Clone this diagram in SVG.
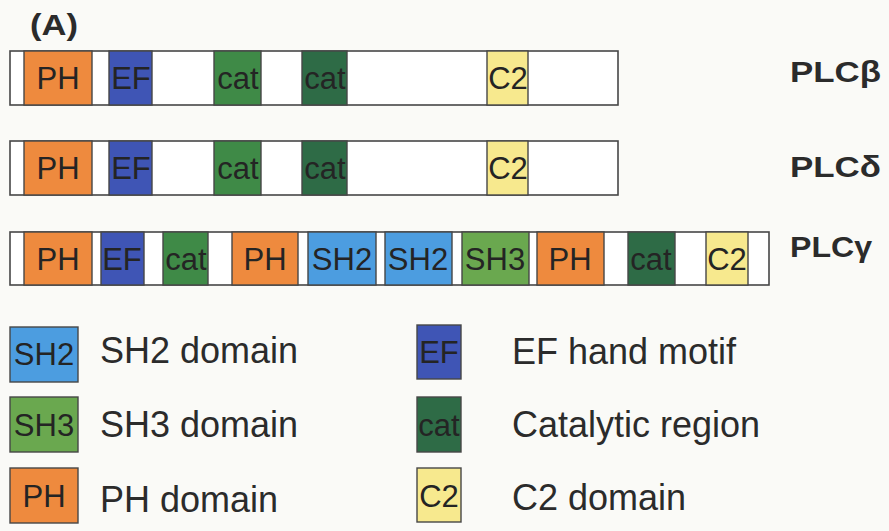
<svg xmlns="http://www.w3.org/2000/svg" width="889" height="531" viewBox="0 0 889 531">
<style>
.bg{fill:#fafaf7}
.bar{fill:#ffffff;stroke:#474747;stroke-width:1.6}
.d{stroke:#474747;stroke-width:1.4}
.ph{fill:#ee8a3e}.ef{fill:#3f55b5}.cat{fill:#3f8a47}.cat2{fill:#2e6b46}
.sh2{fill:#4c9de0}.sh3{fill:#6aa84f}.c2{fill:#f7e98e}
.dt{font-family:"Liberation Sans",Arial,sans-serif;font-size:31px;fill:#242424;text-anchor:middle}
.nm{font-family:"Liberation Sans",Arial,sans-serif;font-size:29px;font-weight:bold;fill:#2b2b2b}
.lg{font-family:"Liberation Sans",Arial,sans-serif;font-size:36px;fill:#2b2b2b}
</style>
<rect class="bg" x="0" y="0" width="889" height="531"/>
<text class="nm" x="30" y="35" textLength="48" lengthAdjust="spacingAndGlyphs">(A)</text>

<g id="plc-beta">
<rect class="bar" x="10" y="51" width="608" height="54"/>
<rect class="d ph" x="24" y="51" width="68" height="54"/><text class="dt" x="58" y="89">PH</text>
<rect class="d ef" x="109" y="51" width="43" height="54"/><text class="dt" x="131" y="89">EF</text>
<rect class="d cat" x="214" y="51" width="47" height="54"/><text class="dt" x="238" y="89">cat</text>
<rect class="d cat2" x="302" y="51" width="45" height="54"/><text class="dt" x="325" y="89">cat</text>
<rect class="d c2" x="487" y="51" width="41" height="54"/><text class="dt" x="508" y="89">C2</text>
<text class="nm" x="790" y="82" textLength="91" lengthAdjust="spacingAndGlyphs">PLCβ</text>
</g>

<g id="plc-delta">
<rect class="bar" x="10" y="141" width="608" height="54"/>
<rect class="d ph" x="24" y="141" width="68" height="54"/><text class="dt" x="58" y="179">PH</text>
<rect class="d ef" x="109" y="141" width="43" height="54"/><text class="dt" x="131" y="179">EF</text>
<rect class="d cat" x="214" y="141" width="47" height="54"/><text class="dt" x="238" y="179">cat</text>
<rect class="d cat2" x="302" y="141" width="45" height="54"/><text class="dt" x="325" y="179">cat</text>
<rect class="d c2" x="487" y="141" width="41" height="54"/><text class="dt" x="508" y="179">C2</text>
<text class="nm" x="790" y="177" textLength="91" lengthAdjust="spacingAndGlyphs">PLCδ</text>
</g>

<g id="plc-gamma">
<rect class="bar" x="10" y="232" width="759" height="53"/>
<rect class="d ph" x="24" y="232" width="68" height="53"/><text class="dt" x="58" y="270">PH</text>
<rect class="d ef" x="101" y="232" width="43" height="53"/><text class="dt" x="122" y="270">EF</text>
<rect class="d cat" x="163" y="232" width="45" height="53"/><text class="dt" x="186" y="270">cat</text>
<rect class="d ph" x="232" y="232" width="66" height="53"/><text class="dt" x="265" y="270">PH</text>
<rect class="d sh2" x="308" y="232" width="68" height="53"/><text class="dt" x="342" y="270">SH2</text>
<rect class="d sh2" x="385" y="232" width="67" height="53"/><text class="dt" x="418" y="270">SH2</text>
<rect class="d sh3" x="462" y="232" width="67" height="53"/><text class="dt" x="495" y="270">SH3</text>
<rect class="d ph" x="537" y="232" width="67" height="53"/><text class="dt" x="570" y="270">PH</text>
<rect class="d cat2" x="628" y="232" width="47" height="53"/><text class="dt" x="651" y="270">cat</text>
<rect class="d c2" x="706" y="232" width="42" height="53"/><text class="dt" x="727" y="270">C2</text>
<text class="nm" x="790" y="257" textLength="82" lengthAdjust="spacingAndGlyphs">PLCγ</text>
</g>

<g id="legend-sh2">
<rect class="d sh2" x="10" y="327" width="68" height="55"/><text class="dt" x="44" y="365">SH2</text>
<text class="lg" x="100" y="363">SH2 domain</text>
</g>
<g id="legend-sh3">
<rect class="d sh3" x="10" y="397" width="68" height="55"/><text class="dt" x="44" y="436">SH3</text>
<text class="lg" x="100" y="437">SH3 domain</text>
</g>
<g id="legend-ph">
<rect class="d ph" x="10" y="468" width="68" height="55"/><text class="dt" x="44" y="507">PH</text>
<text class="lg" x="100" y="512">PH domain</text>
</g>
<g id="legend-ef">
<rect class="d ef" x="417" y="325" width="44" height="54"/><text class="dt" x="439" y="363">EF</text>
<text class="lg" x="512" y="364">EF hand motif</text>
</g>
<g id="legend-cat">
<rect class="d cat2" x="417" y="397" width="44" height="55"/><text class="dt" x="439" y="436">cat</text>
<text class="lg" x="512" y="437">Catalytic region</text>
</g>
<g id="legend-c2">
<rect class="d c2" x="417" y="468" width="44" height="54"/><text class="dt" x="439" y="507">C2</text>
<text class="lg" x="512" y="510">C2 domain</text>
</g>
<g id="connectors"></g>
</svg>
